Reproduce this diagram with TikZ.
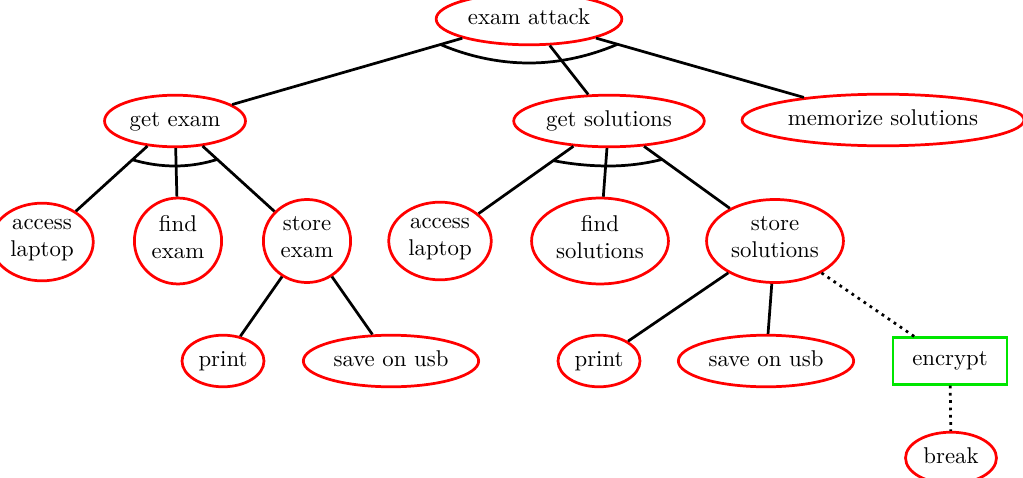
\documentclass[tikz,border=0pt]{standalone}
\usetikzlibrary{calc,shapes.geometric}
\begin{document}
\begin{tikzpicture}[x=0.4386pt,y=0.4386pt,
  goal/.style={ellipse, draw=red, line width=1.2pt, align=center, inner sep=2pt, execute at begin node=\strut},
  defbox/.style={rectangle, draw={rgb,255:red,0;green,230;blue,0}, line width=1.2pt, minimum width=50pt, minimum height=20.4pt},
  link/.style={black, line width=1.2pt},
  andarc/.style={black, line width=1.2pt},
  dotlink/.style={black, line width=1.2pt, dotted}]
\useasboundingbox (0,0) rectangle (1023,-477);
\node[goal] (ea) at (529,-19) {exam attack};
\node[goal] (ge) at (175,-121) {get exam};
\node[goal] (gs) at (609,-121) {get solutions};
\node[goal] (ms) at (883,-120) {memorize solutions};
\node[goal] (al1) at (42,-242) {access\\\strut laptop};
\node[goal] (fe) at (178,-241) {find\\\strut exam};
\node[goal] (se) at (307,-241) {store\\\strut exam};
\node[goal] (al2) at (440,-241) {access\\\strut laptop};
\node[goal] (fs) at (600,-241) {find\\\strut solutions};
\node[goal] (ss) at (775,-241) {store\\\strut solutions};
\node[goal] (p1) at (223,-361) {print};
\node[goal] (u1) at (391,-361) {save on usb};
\node[goal] (p2) at (599,-361) {print};
\node[goal] (u2) at (766,-361) {save on usb};
\node[defbox] (enc) at (950,-361) {encrypt};
\node[goal] (brk) at (951,-458) {break};
\draw[link] (ea) -- (ge);
\draw[link] (ea) -- (gs);
\draw[link] (ea) -- (ms);
\draw[link] (ge) -- (al1);
\draw[link] (ge) -- (fe);
\draw[link] (ge) -- (se);
\draw[link] (gs) -- (al2);
\draw[link] (gs) -- (fs);
\draw[link] (gs) -- (ss);
\draw[link] (se) -- (p1);
\draw[link] (se) -- (u1);
\draw[link] (ss) -- (p2);
\draw[link] (ss) -- (u2);
\draw[dotlink] (ss) -- (enc);
\draw[dotlink] (enc) -- (brk);
\draw[andarc] ($(ea)!0.25!(ge)$) parabola bend ($(ea)+(0,-44)$) ($(ea)!0.25!(ms)$);
\draw[andarc] ($(ge)!0.32!(al1)$) parabola bend ($(ge)+(0,-45)$) ($(ge)!0.32!(se)$);
\draw[andarc] ($(gs)!0.33!(al2)$) parabola bend ($(gs)+(0,-45)$) ($(gs)!0.32!(ss)$);
\end{tikzpicture}
\end{document}
